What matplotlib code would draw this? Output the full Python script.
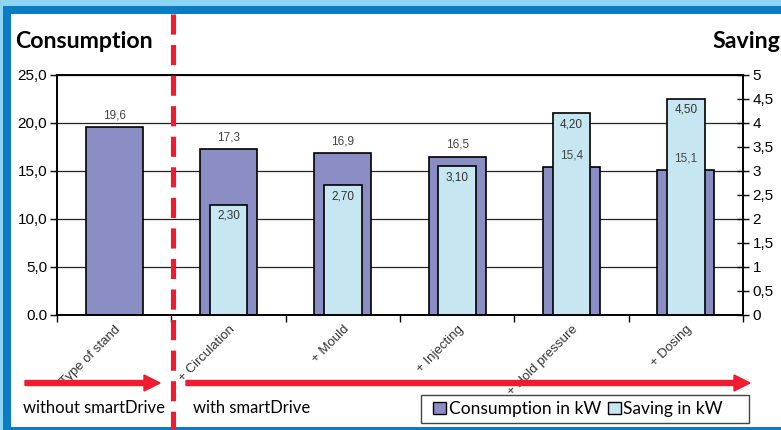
import numpy as np
import matplotlib
matplotlib.use("Agg")
import matplotlib.pyplot as plt
from matplotlib.patches import Rectangle, FancyArrow, Patch
from matplotlib.lines import Line2D
from matplotlib.transforms import IdentityTransform

# data
categories = ["Type of stand", "+ Circulation", "+ Mould", "+ Injecting", "+ Hold pressure", "+ Dosing"]
consumption = [19.6, 17.3, 16.9, 16.5, 15.4, 15.1]
saving = [None, 2.30, 2.70, 3.10, 4.20, 4.50]
left_ticks = [0, 5, 10, 15, 20, 25]
left_ticklabels = ["0.0", "5,0", "10,0", "15,0", "20,0", "25,0"]
right_ticks = [0, 0.5, 1, 1.5, 2, 2.5, 3, 3.5, 4, 4.5, 5]
right_ticklabels = ["0", "0,5", "1", "1,5", "2", "2,5", "3", "3,5", "4", "4,5", "5"]

c_cons = "#8b8dc5"
c_save = "#c6e7f1"
red = "#ee1c2e"
W, H = 781, 430

plt.rcParams['lines.scale_dashes'] = False
fig = plt.figure(figsize=(W / 100, H / 100), dpi=100)

# frame: light blue outer, dark blue, white inside
fig.patches.append(Rectangle((0, 0), W, H, transform=IdentityTransform(), facecolor="#8ed5f4", edgecolor="none", zorder=-3))
fig.patches.append(Rectangle((3, 0), W, H - 6, transform=IdentityTransform(), facecolor="#0a7cc4", edgecolor="none", zorder=-2))
fig.patches.append(Rectangle((11, 3), W, H - 17, transform=IdentityTransform(), facecolor="white", edgecolor="none", zorder=-1))

ax = fig.add_axes([57 / W, 1 - 315 / H, (743 - 57) / W, (315 - 75) / H])
ax2 = ax.twinx()
x = np.arange(len(categories))

ax.bar(x, consumption, width=0.5, color=c_cons, edgecolor="black", linewidth=1.2, zorder=2)
sx = [xi for xi, s in zip(x, saving) if s is not None]
sv = [s for s in saving if s is not None]
ax2.bar(sx, sv, width=0.33, color=c_save, edgecolor="black", linewidth=1.2, zorder=2)

ax.set_xlim(-0.5, len(categories) - 0.5)
ax.set_ylim(0, 25)
ax2.set_ylim(0, 5)
ax.set_yticks(left_ticks)
ax.set_yticklabels(left_ticklabels, fontsize=11, family="Liberation Sans")
ax2.set_yticks(right_ticks)
ax2.set_yticklabels(right_ticklabels, fontsize=11, family="Liberation Sans")
ax.tick_params(axis="y", length=5, width=1, pad=2)
ax2.tick_params(axis="y", length=8, width=1, direction="inout", pad=3)
ax.yaxis.grid(True, color="#222222", linewidth=0.9)
ax.set_axisbelow(True)

ax.set_xticks(x)
ax.set_xticklabels(categories, rotation=45, ha="right", va="top", rotation_mode="anchor",
                   fontsize=9.5, family="Liberation Sans", color="#333333")
ax.tick_params(axis="x", length=0, pad=6)
ax.set_xticks(np.arange(-0.5, len(categories), 1), minor=True)
ax.tick_params(axis="x", which="minor", length=5, width=1)

for a in (ax, ax2):
    for s in a.spines.values():
        s.set_linewidth(1.2)
        s.set_color("black")

# value labels
for xi, v in zip(x, consumption):
    ax2.text(xi, v / 5 + 0.12, f"{v:.1f}".replace(".", ","), ha="center", va="bottom",
             fontsize=8.5, family="Liberation Sans", color="#444444", zorder=5)
for xi, v in zip(sx, sv):
    ax2.text(xi, v - 0.1, f"{v:.2f}".replace(".", ","), ha="center", va="top",
             fontsize=8.5, family="Liberation Sans", color="#333333", zorder=5)

# headers
fig.text(15 / W, 1 - 42 / H, "Consumption", fontsize=16.7, fontweight="bold", family="Lato", va="center", ha="left")
fig.text(712 / W, 1 - 42 / H, "Saving", fontsize=16.7, fontweight="bold", family="Lato", va="center", ha="left")

# red dashed separator
fig.lines.append(Line2D([173 / W, 173 / W], [1 - 14 / H, 0], transform=fig.transFigure,
                        color=red, linewidth=3.7, dashes=[14.5, 7.5], zorder=10))

# arrows
fig.patches.append(FancyArrow(25, H - 383, 135, 0, width=5, head_width=16, head_length=16,
                              length_includes_head=True, transform=IdentityTransform(),
                              color=red, zorder=4))
fig.patches.append(FancyArrow(186, H - 383, 564, 0, width=5, head_width=16, head_length=16,
                              length_includes_head=True, transform=IdentityTransform(),
                              color=red, zorder=4))

fig.text(23 / W, 1 - 408 / H, "without smartDrive", fontsize=12, family="Lato", va="center", ha="left")
fig.text(193 / W, 1 - 408 / H, "with smartDrive", fontsize=12, family="Lato", va="center", ha="left")

# legend: box drawn separately, items centred inside it
fig.patches.append(Rectangle((421, H - 423), 749 - 421, 423 - 395, transform=IdentityTransform(),
                             facecolor="white", edgecolor="#444444", linewidth=1, zorder=5))
handles = [Patch(facecolor=c_cons, edgecolor="black", label="Consumption in kW"),
           Patch(facecolor=c_save, edgecolor="black", label="Saving in kW")]
leg = fig.legend(handles=handles, ncol=2, loc="center",
                 bbox_to_anchor=(578 / W, 1 - 409 / H),
                 frameon=False, prop={"family": "Lato", "size": 12.5},
                 handlelength=0.75, handleheight=0.75, handletextpad=0.15, columnspacing=0.4,
                 borderpad=0, borderaxespad=0)
leg.set_zorder(6)

fig.savefig("out.png", dpi=100)
